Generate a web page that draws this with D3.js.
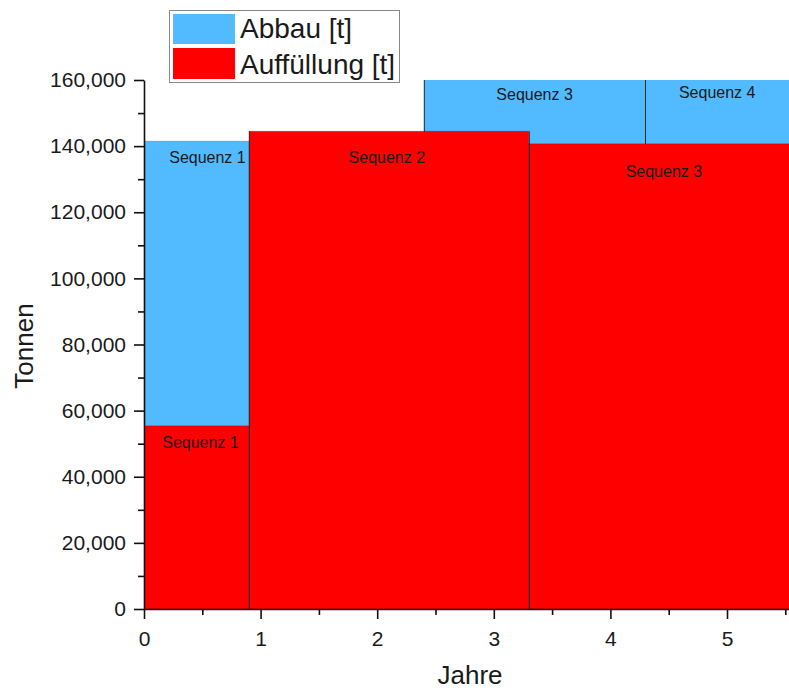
<!DOCTYPE html>
<html>
<head>
<meta charset="utf-8">
<script src="https://cdn.jsdelivr.net/npm/d3@7"></script>
<style>
  body { margin: 0; background: #fff; }
  svg { display: block; font-family: "Liberation Sans", Arial, sans-serif; }
</style>
</head>
<body>
<div id="chart"></div>
<script>
// Abbau (blue) bars
var abbauSeq = ["Sequenz 1", "Sequenz 3", "Sequenz 4"];
var abbauStart = [0, 2.4, 4.3];
var abbauEnd = [0.9, 4.3, 6];
var abbauTonnen = [141500, 162000, 162000];

// Auffuellung (red) bars
var fuellSeq = ["Sequenz 1", "Sequenz 2", "Sequenz 3"];
var fuellStart = [0, 0.9, 3.3];
var fuellEnd = [0.9, 3.3, 6];
var fuellTonnen = [55400, 144500, 140700];

var yTicks = [0, 20000, 40000, 60000, 80000, 100000, 120000, 140000, 160000];
var xTicks = [0, 1, 2, 3, 4, 5];

// label nudges (dx, dy from visible bar top) - styling only
var abbauNudge = [[11, 22], [0, 20], [0, 18]];
var fuellNudge = [[4, 22], [-2, 32], [5, 33]];

var W = 789, H = 690;
var svg = d3.select("#chart").append("svg").attr("width", W).attr("height", H);

var x = d3.scaleLinear().domain([0, 6]).range([144, 144 + 116.6 * 6]);
var y = d3.scaleLinear().domain([0, 160000]).range([609, 80]);

svg.append("clipPath").attr("id", "plotclip")
  .append("rect").attr("x", 144).attr("y", 80).attr("width", W - 144).attr("height", 609 - 80);

var plot = svg.append("g").attr("clip-path", "url(#plotclip)");

function drawBars(seq, start, end, vals, color, nudge) {
  var data = seq.map(function (s, i) {
    return { seq: s, x0: start[i], x1: end[i], v: vals[i], n: nudge[i] };
  });
  var g = plot.append("g");
  g.selectAll("rect").data(data).join("rect")
    .attr("x", d => x(d.x0))
    .attr("y", d => y(d.v))
    .attr("width", d => x(d.x1) - x(d.x0))
    .attr("height", d => y(0) - y(d.v))
    .attr("fill", color)
    .attr("stroke", "rgba(0,0,0,0.18)")
    .attr("stroke-width", 1);
  // vertical edges
  data.forEach(function (d) {
    [d.x0, d.x1].forEach(function (xv) {
      g.append("line")
        .attr("x1", Math.round(x(xv)) + 0.5).attr("x2", Math.round(x(xv)) + 0.5)
        .attr("y1", y(d.v)).attr("y2", y(0))
        .attr("stroke", "#2a2a2a").attr("stroke-opacity", 0.8).attr("stroke-width", 1);
    });
  });
  g.selectAll("text").data(data).join("text")
    .attr("x", function (d) {
      var a = x(d.x0), b = Math.min(x(d.x1), W);
      return (a + b) / 2 + d.n[0];
    })
    .attr("y", d => Math.max(y(d.v), 80) + d.n[1])
    .attr("text-anchor", "middle")
    .attr("font-size", "16px")
    .attr("fill", "#1a1a1a")
    .text(d => d.seq);
}

drawBars(abbauSeq, abbauStart, abbauEnd, abbauTonnen, "#52BAFF", abbauNudge);
drawBars(fuellSeq, fuellStart, fuellEnd, fuellTonnen, "#FF0000", fuellNudge);

// y axis
svg.append("g").attr("transform", "translate(144,0)")
  .call(d3.axisLeft(y).tickValues(yTicks).tickSize(10).tickSizeOuter(0).tickPadding(8).tickFormat(d3.format(",")));
svg.append("g").attr("transform", "translate(144,0)")
  .call(d3.axisLeft(y).tickValues(yTicks.slice(0, -1).map(d => d + 10000)).tickSize(6).tickFormat(""))
  .select(".domain").remove();

// x axis
svg.append("g").attr("transform", "translate(0,609)")
  .call(d3.axisBottom(x).tickValues(xTicks).tickSize(10).tickSizeOuter(0).tickPadding(12).tickFormat(d3.format("d")));
svg.append("g").attr("transform", "translate(0,609)")
  .call(d3.axisBottom(x).tickValues(xTicks.map(d => d + 0.5)).tickSize(6).tickFormat(""))
  .select(".domain").remove();

svg.selectAll(".domain").attr("stroke", "#111").attr("stroke-width", 1.6);
svg.selectAll(".tick line").attr("stroke", "#111").attr("stroke-width", 1.6);
svg.selectAll(".tick text").attr("font-size", "21px").attr("fill", "#1a1a1a")
  .attr("font-family", "'Liberation Sans', Arial, sans-serif");

// axis titles
svg.append("text").attr("transform", "translate(33,346) rotate(-90)")
  .attr("text-anchor", "middle").attr("font-size", "26px").attr("fill", "#1a1a1a").text("Tonnen");
svg.append("text").attr("x", 470).attr("y", 684)
  .attr("text-anchor", "middle").attr("font-size", "26px").attr("fill", "#1a1a1a").text("Jahre");

// legend
var legend = svg.append("g");
legend.append("rect").attr("x", 169.5).attr("y", 10.5).attr("width", 230).attr("height", 72)
  .attr("fill", "#fff").attr("stroke", "#888").attr("stroke-width", 1);
legend.append("rect").attr("x", 173).attr("y", 14).attr("width", 62).attr("height", 30).attr("fill", "#52BAFF");
legend.append("rect").attr("x", 173).attr("y", 48).attr("width", 62).attr("height", 31).attr("fill", "#FF0000");
legend.append("text").attr("x", 240).attr("y", 38).attr("font-size", "28px").attr("fill", "#1a1a1a").text("Abbau [t]");
legend.append("text").attr("x", 240).attr("y", 74).attr("font-size", "28px").attr("fill", "#1a1a1a").text("Auffüllung [t]");
</script>
</body>
</html>
